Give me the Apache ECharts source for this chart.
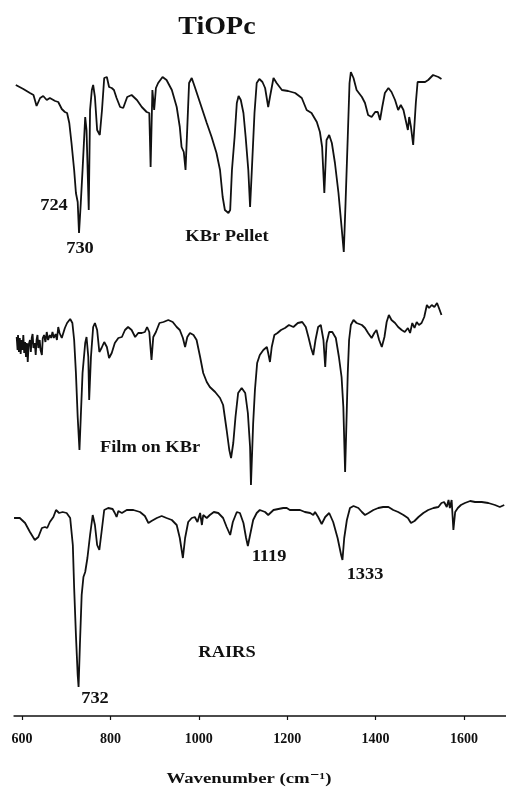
<!DOCTYPE html>
<html>
<head>
<meta charset="utf-8">
<script src="https://cdn.jsdelivr.net/npm/echarts@6/dist/echarts.min.js"></script>
<style>
html,body{margin:0;padding:0;background:#fff;}
#chart{width:506px;height:792px;}
</style>
</head>
<body>
<div id="chart"></div>
<script>
// ---- data (wavenumber in cm-1, signal in arbitrary transmittance units) ----
var kbrWavenumber = [586,603,618,626,633,641,648,656,663,675,682,690,697,702,707,712,718,722,726,729,733,737,743,746,751,754,758,761,765,770,776,781,786,792,797,803,808,814,822,829,838,848,860,871,882,888,891,895,899,903,908,918,927,939,950,957,961,966,970,974,978,984,991,1003,1018,1029,1040,1048,1054,1059,1067,1071,1075,1081,1086,1090,1095,1101,1106,1112,1116,1120,1126,1131,1137,1144,1150,1157,1161,1169,1176,1188,1202,1218,1233,1244,1255,1267,1274,1279,1284,1289,1295,1301,1308,1316,1323,1328,1332,1337,1341,1344,1350,1357,1369,1376,1383,1391,1399,1405,1410,1415,1421,1429,1436,1444,1451,1457,1463,1468,1473,1476,1480,1485,1491,1495,1504,1512,1519,1530,1542,1549];
var kbrSignal = [175,171,167,165,154,162,164,160,162,159,158,151,148,147,137,117,90,67,58,27,57,90,143,130,50,150,170,175,163,130,125,150,182,183,173,172,170,162,153,152,163,165,160,153,148,147,93,170,150,172,177,183,180,170,153,133,113,108,90,133,177,182,173,157,137,123,107,90,63,50,47,50,90,123,157,164,160,147,123,90,53,90,147,177,181,178,172,153,163,182,177,170,169,167,162,150,147,138,128,113,67,120,125,117,97,67,33,8,57,123,177,188,182,170,163,157,145,143,148,148,140,153,167,172,168,160,150,155,150,140,130,143,133,115,157,178,178,178,180,185,183,181];

var filmWavenumber = [588,590,591,593,595,597,599,601,603,605,607,609,611,613,615,618,620,622,624,626,629,631,633,635,637,640,642,645,647,650,653,656,659,663,666,669,672,676,679,682,685,688,690,693,697,702,709,714,718,722,726,730,733,737,743,746,750,752,756,761,765,770,775,780,786,792,797,803,810,818,826,833,840,848,856,863,871,878,883,888,893,897,903,911,920,931,941,950,957,964,969,974,980,988,995,1003,1010,1018,1025,1037,1048,1055,1063,1069,1073,1078,1083,1089,1097,1105,1111,1116,1118,1123,1127,1132,1138,1146,1154,1157,1161,1165,1171,1178,1186,1195,1204,1214,1224,1234,1242,1248,1254,1259,1264,1270,1276,1282,1286,1289,1295,1302,1310,1317,1323,1327,1329,1331,1334,1337,1340,1344,1350,1357,1369,1376,1383,1391,1397,1402,1408,1414,1420,1425,1430,1436,1444,1451,1459,1466,1473,1478,1483,1488,1493,1498,1504,1510,1516,1521,1527,1533,1539,1545,1549];
var filmSignal = [153,140,155,138,152,136,150,140,155,137,148,133,147,128,145,150,138,152,156,142,147,135,150,155,142,150,140,135,152,155,148,158,150,155,152,158,152,156,150,163,157,158,152,153,162,167,171,167,150,117,73,40,73,117,147,153,133,90,133,163,167,160,138,142,148,143,132,137,147,152,153,160,163,160,153,157,157,158,163,158,130,153,158,167,168,170,168,163,160,152,143,153,157,155,150,133,117,108,103,98,92,85,60,40,32,47,73,97,102,97,77,43,5,67,100,127,135,140,143,137,128,143,155,157,160,162,165,163,167,168,163,153,142,135,150,163,165,150,123,147,158,158,152,133,113,83,50,18,67,117,150,165,170,167,165,162,157,152,157,160,150,143,153,168,175,170,167,163,160,158,162,157,167,162,168,165,167,173,185,182,185,183,187,180,175];

var rairsWavenumber = [582,595,607,618,629,637,645,652,657,663,671,677,684,692,701,709,715,718,722,726,728,731,735,739,743,748,754,760,765,770,775,780,786,795,805,810,814,818,826,837,852,867,878,886,893,905,916,927,939,950,957,964,969,976,984,991,997,1003,1007,1010,1018,1025,1034,1044,1055,1063,1071,1077,1086,1093,1101,1107,1111,1116,1123,1131,1138,1150,1157,1169,1180,1191,1199,1206,1218,1229,1240,1252,1259,1263,1270,1278,1286,1295,1304,1314,1322,1325,1329,1335,1342,1350,1361,1369,1376,1384,1395,1406,1417,1429,1440,1451,1463,1473,1480,1488,1497,1508,1519,1531,1542,1549,1555,1561,1565,1568,1572,1576,1580,1586,1593,1602,1614,1625,1640,1655,1670,1681,1691];
var rairsSignal = [182,182,177,168,160,163,172,173,172,178,183,190,187,188,187,182,155,112,65,25,13,55,105,123,128,142,165,185,175,155,150,168,190,192,191,187,183,189,187,190,190,188,184,177,179,182,184,182,180,175,162,142,162,178,182,183,178,187,175,185,182,185,188,187,182,173,165,178,188,187,177,162,154,165,180,187,190,188,185,190,191,192,192,190,190,190,188,187,185,188,183,176,183,187,178,162,145,140,162,180,192,194,192,188,185,187,190,192,193,193,190,188,185,182,177,179,183,187,190,192,193,197,198,193,200,192,200,170,188,192,195,197,199,198,198,197,195,193,195];

var xTickValues = [600, 800, 1000, 1200, 1400, 1600];

// vertical stacking offsets for the three spectra
var kbrOffset = 456, filmOffset = 226, rairsOffset = 16;

function pairs(xs, ys, off) {
  return xs.map(function (x, i) { return [x, ys[i] + off]; });
}

var chart = echarts.init(document.getElementById('chart'), null, {renderer: 'canvas'});
var serif = '"Liberation Serif", "DejaVu Serif", serif';
var lineStyle = {color: '#111', width: 1.8};

function txt(text, x, y, size, sx) {
  return {
    type: 'text', x: x, y: y, scaleX: sx || 1, z: 10,
    style: {text: text, fill: '#111', font: 'bold ' + size + 'px ' + serif,
            textAlign: 'center', textVerticalAlign: 'middle'}
  };
}

chart.setOption({
  animation: false,
  backgroundColor: '#fff',
  grid: {left: 14.04, right: 0, top: 50, bottom: 76, containLabel: false},
  xAxis: {
    type: 'value', min: 582, max: 1695,
    axisLine: {show: true, lineStyle: {color: '#111', width: 1.5}},
    axisTick: {show: true, length: 4, customValues: xTickValues, lineStyle: {color: '#111', width: 1.2}},
    axisLabel: {customValues: xTickValues, margin: 16, color: '#111', fontFamily: serif, fontWeight: 'bold', fontSize: 14,
                formatter: function (v) { return String(v); }},
    splitLine: {show: false}
  },
  yAxis: {type: 'value', min: 0, max: 666, show: false, splitLine: {show: false}},
  series: [
    {type: 'line', name: 'KBr Pellet', data: pairs(kbrWavenumber, kbrSignal, kbrOffset), showSymbol: false, lineStyle: lineStyle, clip: false},
    {type: 'line', name: 'Film on KBr', data: pairs(filmWavenumber, filmSignal, filmOffset), showSymbol: false, lineStyle: lineStyle, clip: false},
    {type: 'line', name: 'RAIRS', data: pairs(rairsWavenumber, rairsSignal, rairsOffset), showSymbol: false, lineStyle: lineStyle, clip: false}
  ],
  graphic: [
    txt('TiOPc', 217, 28, 25, 1.12),
    txt('724', 54, 206, 17, 1.08),
    txt('730', 80, 249, 17, 1.08),
    txt('KBr Pellet', 227, 237, 16, 1.15),
    txt('Film on KBr', 150, 448, 16, 1.15),
    txt('1119', 269, 557, 17, 1.08),
    txt('1333', 365, 575, 17, 1.08),
    txt('RAIRS', 227, 653, 16, 1.15),
    txt('732', 95, 699, 17, 1.08),
    txt('Wavenumber (cm\u207B\u00B9)', 249, 779, 15, 1.25)
  ]
});
</script>
</body>
</html>
